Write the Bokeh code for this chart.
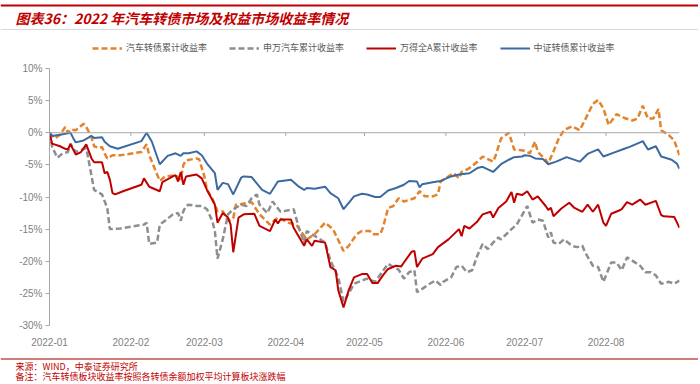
from datetime import datetime
import pandas as pd
from bokeh.plotting import figure
from bokeh.layouts import column, row
from bokeh.models import (Label, Span, Legend, LegendItem,
                          DatetimeTickFormatter, FixedTicker, PrintfTickFormatter, Range1d)
from bokeh.embed import file_html
from bokeh.resources import INLINE

# ---------------- data (cumulative return, %) ----------------
orange_dates = ["01-01","01-03","01-05","01-07","01-08","01-09","01-11","01-14","01-15","01-17","01-18","01-20","01-21","01-22","01-23","01-25","01-28",
                "02-05","02-07","02-08","02-12","02-14","02-18","02-20","02-21","02-22","02-26","02-27",
                "03-01","03-02","03-04","03-06","03-08","03-10","03-12","03-13","03-15","03-19","03-22","03-26","03-29",
                "04-02","04-05","04-09","04-12","04-16","04-19","04-23","04-25","04-28","04-30",
                "05-03","05-04","05-07","05-08","05-10","05-12","05-14","05-16","05-20","05-22","05-24","05-27","05-29","05-30",
                "06-02","06-04","06-06","06-07","06-10","06-13","06-15","06-17","06-19","06-20","06-22","06-24","06-25","06-27","06-29",
                "07-01","07-03","07-05","07-06","07-09","07-10","07-12","07-14","07-16","07-19","07-22","07-24","07-27","07-29","07-31",
                "08-02","08-05","08-08","08-11","08-13","08-15","08-17","08-19","08-21","08-22","08-25","08-27","08-29"]
orange_vals = [0.0,-0.9,-0.3,0.9,0.0,0.5,0.4,1.4,0.9,-0.7,-2.1,-2.4,-2.2,-3.2,-4.0,-3.5,-3.5,
               -3.0,-1.8,-3.5,-7.5,-6.8,-6.6,-7.3,-5.0,-4.3,-4.0,-4.1,
               -6.8,-8.9,-10.2,-12.2,-12.2,-13.7,-13.3,-11.2,-11.1,-10.8,-12.7,-14.3,-13.2,
               -14.0,-14.3,-16.6,-15.8,-14.0,-15.0,-18.4,-17.6,-15.8,-15.3,
               -15.3,-15.8,-15.8,-14.8,-11.7,-11.4,-10.2,-10.7,-10.2,-9.1,-9.9,-9.9,-9.6,-7.6,
               -6.8,-6.3,-7.1,-6.1,-5.5,-4.5,-3.7,-4.1,-4.5,-3.5,-0.9,-0.3,0.0,-2.6,-2.7,
               -2.8,-3.2,-1.4,-3.0,-4.2,-4.8,-2.9,-0.9,0.4,1.0,0.4,2.0,4.5,5.1,3.8,
               1.2,2.9,2.3,1.9,2.2,4.2,2.2,2.2,3.7,0.4,-0.4,-1.2,-3.5]

gray_dates = ["01-01","01-02","01-04","01-06","01-08","01-09","01-10","01-11","01-13","01-15","01-16","01-18","01-21","01-23","01-24","01-28",
              "02-06","02-07","02-08","02-11","02-12","02-14","02-17","02-19","02-20","02-21","02-22","02-23","02-26","02-28",
              "03-02","03-04","03-05","03-06","03-08","03-10","03-12","03-15","03-17","03-19","03-21","03-22","03-25","03-27","03-30",
              "04-04","04-06","04-08","04-09","04-13","04-16","04-18","04-21","04-23","04-25","04-27","04-30",
              "05-02","05-05","05-10","05-12","05-14","05-16","05-18","05-20","05-21","05-23","05-25","05-28","05-30","05-31",
              "06-03","06-05","06-07","06-09","06-11","06-13","06-15","06-17","06-19","06-21","06-22","06-24","06-26","06-28",
              "07-02","07-04","07-06","07-08","07-10","07-11","07-12","07-14","07-16","07-19","07-21","07-23","07-24","07-27","07-29","07-31",
              "08-03","08-05","08-07","08-09","08-11","08-14","08-16","08-18","08-20","08-22","08-25","08-27","08-29"]
gray_vals = [0.0,-2.2,-3.9,-3.2,-3.0,-1.7,-2.4,-3.0,-2.7,-2.4,-4.5,-8.9,-9.6,-11.7,-15.0,-14.9,
             -14.3,-14.0,-17.3,-17.1,-14.3,-13.7,-12.7,-12.5,-13.7,-12.2,-11.4,-11.2,-11.4,-11.4,
             -11.9,-13.7,-15.3,-19.6,-16.6,-12.7,-11.9,-11.2,-11.4,-10.2,-9.6,-11.2,-12.5,-10.7,-12.3,
             -11.9,-14.8,-17.1,-15.3,-16.3,-17.1,-19.9,-22.5,-26.3,-25.0,-23.5,-23.0,
             -22.7,-23.2,-20.4,-20.9,-21.3,-22.7,-21.7,-21.4,-24.8,-24.3,-23.7,-23.0,-23.7,-23.2,
             -22.5,-20.9,-20.7,-21.7,-21.4,-19.1,-17.3,-18.1,-17.1,-16.3,-16.6,-15.8,-15.0,-14.3,
             -11.4,-14.0,-13.5,-13.7,-16.3,-15.5,-17.1,-17.3,-16.6,-17.6,-17.8,-17.6,-18.6,-20.7,-20.9,-23.2,
             -20.2,-20.2,-21.4,-19.4,-19.9,-20.7,-21.7,-21.7,-22.2,-23.5,-23.2,-23.5,-23.0]

red_dates = ["01-01","01-02","01-05","01-07","01-08","01-09","01-11","01-13","01-15","01-17","01-18","01-21","01-22","01-23","01-24","01-25","01-26","01-29",
             "02-05","02-06","02-08","02-12","02-13","02-17","02-18","02-19","02-20","02-21","02-22","02-26","02-28",
             "03-02","03-05","03-06","03-08","03-10","03-11","03-12","03-14","03-16","03-20","03-22","03-26","03-28","03-29","03-30",
             "04-03","04-04","04-08","04-09","04-11","04-12","04-16","04-18","04-20","04-21","04-23","04-25","04-27","04-30",
             "05-02","05-04","05-06","05-08","05-10","05-13","05-15","05-16","05-19","05-20","05-21","05-23","05-27","05-29",
             "06-02","06-06","06-07","06-08","06-10","06-13","06-15","06-18","06-19","06-21","06-24","06-26","06-27","06-28","06-30",
             "07-02","07-04","07-06","07-09","07-10","07-11","07-12","07-15","07-18","07-20","07-23","07-25","07-27","07-29","07-31",
             "08-01","08-03","08-06","08-07","08-09","08-11","08-14","08-16","08-20","08-22","08-23","08-27","08-29"]
red_vals = [0.0,-1.7,-2.1,-2.5,-2.6,-1.8,-3.4,-3.0,-1.8,-4.0,-4.6,-4.6,-6.3,-6.1,-7.3,-9.4,-9.6,-9.1,
            -8.1,-7.1,-8.4,-9.1,-7.7,-6.8,-6.6,-7.6,-6.1,-8.1,-6.8,-6.5,-7.1,
            -8.9,-11.2,-14.0,-12.5,-13.2,-14.3,-18.6,-13.2,-12.7,-12.6,-14.5,-15.3,-13.5,-14.1,-13.5,
            -13.5,-14.8,-17.6,-16.6,-17.6,-16.8,-17.1,-20.9,-21.4,-24.5,-27.2,-24.5,-22.5,-22.0,
            -22.0,-23.4,-23.4,-22.2,-21.2,-20.7,-20.8,-20.2,-18.5,-18.4,-20.9,-19.6,-18.9,-17.8,
            -16.6,-15.0,-16.1,-14.5,-14.9,-13.8,-12.7,-12.3,-13.2,-11.7,-10.7,-9.2,-10.9,-9.5,-9.7,
            -9.1,-10.4,-9.9,-11.4,-12.0,-11.7,-13.0,-11.8,-10.9,-11.7,-12.3,-11.2,-12.3,-11.2,-14.0,
            -14.5,-12.6,-12.1,-11.9,-10.8,-11.2,-10.4,-11.2,-10.6,-12.8,-13.0,-13.1,-14.8]

blue_dates = ["01-01","01-02","01-05","01-09","01-10","01-11","01-14","01-17","01-18","01-21","01-22","01-24","01-27",
              "02-05","02-07","02-09","02-12","02-15","02-18","02-20","02-21","02-23","02-26","02-28",
              "03-02","03-05","03-06","03-08","03-10","03-12","03-15","03-16","03-19","03-23","03-26","03-29",
              "04-03","04-06","04-08","04-09","04-12","04-16","04-18","04-21","04-23","04-25","04-27","04-30",
              "05-02","05-05","05-07","05-10","05-13","05-16","05-18","05-21","05-22","05-23","05-27","05-30",
              "06-03","06-06","06-10","06-13","06-15","06-19","06-22","06-25","06-27","06-30",
              "07-01","07-03","07-05","07-08","07-10","07-13","07-17","07-22","07-25","07-29","07-31",
              "08-04","08-08","08-10","08-14","08-15","08-17","08-20","08-22","08-26","08-28","08-29"]
blue_vals = [0.0,-0.5,-0.3,0.0,-0.8,-1.5,-1.2,-0.5,-0.8,-0.7,-1.4,-2.1,-2.5,
             -1.3,0.0,-1.4,-4.9,-3.6,-3.2,-3.6,-3.2,-3.2,-2.9,-3.5,
             -4.8,-6.3,-8.9,-7.8,-8.0,-9.6,-7.0,-6.8,-6.9,-8.9,-9.5,-7.6,
             -7.3,-8.4,-8.9,-8.6,-8.7,-8.4,-9.4,-10.2,-11.9,-10.9,-9.9,-9.5,
             -9.6,-10.0,-10.0,-9.0,-8.6,-8.1,-7.5,-7.6,-8.5,-8.0,-7.7,-7.5,
             -6.8,-6.5,-6.3,-5.5,-5.3,-6.1,-4.9,-4.2,-3.8,-3.7,
             -3.5,-3.6,-4.0,-4.1,-4.9,-4.5,-3.8,-4.5,-3.3,-2.6,-3.7,
             -3.1,-2.5,-2.2,-1.5,-1.3,-2.6,-2.1,-3.7,-4.2,-4.8,-5.6]

series_names = ["汽车转债累计收益率", "申万汽车累计收益率", "万得全A累计收益率", "中证转债累计收益率"]
month_starts = ["2022-01-01","2022-02-01","2022-03-01","2022-04-01","2022-05-01","2022-06-01","2022-07-01","2022-08-01"]
y_ticks = [10, 5, 0, -5, -10, -15, -20, -25, -30]

title_text = "图表36：2022 年汽车转债市场及权益市场收益率情况"
source_text = "来源：WIND，中泰证券研究所"
note_text = "备注：汽车转债板块收益率按照各转债余额加权平均计算板块涨跌幅"

# ---------------- styles / layout ----------------
W = 698
HEAD_H, MAIN_H, FOOT_H = 60, 288, 34
FL, FR = 49, 679            # frame left/right in main figure (px)
FT, FB = 8, 269             # frame top/bottom inside main figure (px)
AX_FONT = "Liberation Sans"
CJK_FONT = "Noto Sans CJK SC"
LBL_COLOR = "#7F7F7F"
RED = "#C00000"
C_ORANGE, C_GRAY, C_RED, C_BLUE = "#E3832B", "#8E8E8E", "#C00000", "#3C6AA0"


def to_dt(lst):
    return [datetime.strptime("2022-" + s, "%Y-%m-%d") for s in lst]


def blank_fig(h):
    f = figure(width=W, height=h, output_backend="svg", toolbar_location=None,
               x_range=Range1d(0, W), y_range=Range1d(h, 0),
               x_axis_location=None, y_axis_location=None,
               min_border=0, min_border_left=0, min_border_right=0,
               min_border_top=0, min_border_bottom=0)
    f.outline_line_color = None
    f.xgrid.grid_line_color = None
    f.ygrid.grid_line_color = None
    f.background_fill_color = "white"
    f.border_fill_color = "white"
    return f


# ---------------- header: title + legend ----------------
hf = blank_fig(HEAD_H)
hf.add_layout(Span(location=5, dimension="width", line_color=RED, line_width=2.2))
hf.add_layout(Label(x=15, y=17.5, text=title_text, text_font=CJK_FONT, text_font_size="14px",
                    text_font_style="bold italic", text_color=RED,
                    text_baseline="middle", text_align="left"))
hf.add_layout(Span(location=29, dimension="width", line_color="#D9D9D9", line_width=1))

# legend swatches (kept outside the visible header range)
off_x, off_y = [-20, -10], [-20, -20]
d_orange = hf.line(off_x, off_y, line_color=C_ORANGE, line_width=2.5, line_dash="6 3")
d_gray = hf.line(off_x, off_y, line_color=C_GRAY, line_width=2.5, line_dash="6 3")
d_red = hf.line(off_x, off_y, line_color=C_RED, line_width=2)
d_blue = hf.line(off_x, off_y, line_color=C_BLUE, line_width=2)
legend = Legend(items=[LegendItem(label=series_names[0], renderers=[d_orange]),
                       LegendItem(label=series_names[1], renderers=[d_gray]),
                       LegendItem(label=series_names[2], renderers=[d_red]),
                       LegendItem(label=series_names[3], renderers=[d_blue])],
                orientation="horizontal", location=(92, HEAD_H - 54),
                spacing=22, glyph_width=30, glyph_height=12, label_height=12,
                label_standoff=4, padding=0, margin=0,
                border_line_color=None, background_fill_alpha=0,
                label_text_font=CJK_FONT, label_text_font_size="9px",
                label_text_color="#595959")
hf.add_layout(legend)

# ---------------- main chart ----------------
p = figure(width=W, height=MAIN_H, output_backend="svg", toolbar_location=None,
           x_axis_type="datetime",
           x_range=Range1d(datetime(2022, 1, 1), datetime(2022, 8, 29)),
           y_range=Range1d(-30, 10),
           min_border_left=FL, min_border_right=W - FR,
           min_border_top=FT, min_border_bottom=MAIN_H - FB)
p.outline_line_color = None
p.xgrid.grid_line_color = None
p.ygrid.grid_line_color = None
p.background_fill_color = "white"
p.border_fill_color = "white"

month_dt = [datetime.strptime(s, "%Y-%m-%d") for s in month_starts]
month_ms = [pd.Timestamp(d).value // 10**6 for d in month_dt]

xa = p.xaxis[0]
xa.ticker = FixedTicker(ticks=month_ms)
xa.formatter = DatetimeTickFormatter(days="%Y-%m", months="%Y-%m", years="%Y-%m", hours="%Y-%m")
xa.axis_line_color = None
xa.major_tick_line_color = None
xa.minor_tick_line_color = None
xa.major_label_text_font = AX_FONT
xa.major_label_text_font_size = "10px"
xa.major_label_text_color = LBL_COLOR
xa.major_label_standoff = 6

ya = p.yaxis[0]
ya.ticker = FixedTicker(ticks=y_ticks)
ya.formatter = PrintfTickFormatter(format="%d%%")
ya.axis_line_color = "#A6A6A6"
ya.major_tick_line_color = "#A6A6A6"
ya.major_tick_out = 4
ya.major_tick_in = 0
ya.minor_tick_line_color = None
ya.major_label_text_font = AX_FONT
ya.major_label_text_font_size = "10px"
ya.major_label_text_color = LBL_COLOR
ya.major_label_standoff = 3

p.add_layout(Span(location=0, dimension="width", line_color="#A6A6A6", line_width=1))
p.segment(x0=month_dt, y0=[0] * len(month_dt), x1=month_dt, y1=[-0.5] * len(month_dt),
          line_color="#A6A6A6", line_width=1)

p.line(to_dt(orange_dates), orange_vals, line_color=C_ORANGE, line_width=2.5, line_dash="6 3")
p.line(to_dt(gray_dates), gray_vals, line_color=C_GRAY, line_width=2.5, line_dash="6 3")
p.line(to_dt(red_dates), red_vals, line_color=C_RED, line_width=2)
p.line(to_dt(blue_dates), blue_vals, line_color=C_BLUE, line_width=2)

# ---------------- footer ----------------
ff = blank_fig(FOOT_H)
ff.add_layout(Span(location=10.5, dimension="width", line_color="#C0504D", line_width=1.6))
ff.add_layout(Label(x=15, y=17.5, text=source_text, text_font=CJK_FONT, text_font_size="9px",
                    text_color=RED, text_baseline="middle", text_align="left"))
ff.add_layout(Label(x=15, y=28, text=note_text, text_font=CJK_FONT, text_font_size="9px",
                    text_color=RED, text_baseline="middle", text_align="left"))

layout = column(row(hf), p, row(ff), spacing=0)
open("out.html", "w").write(file_html(layout, INLINE))
